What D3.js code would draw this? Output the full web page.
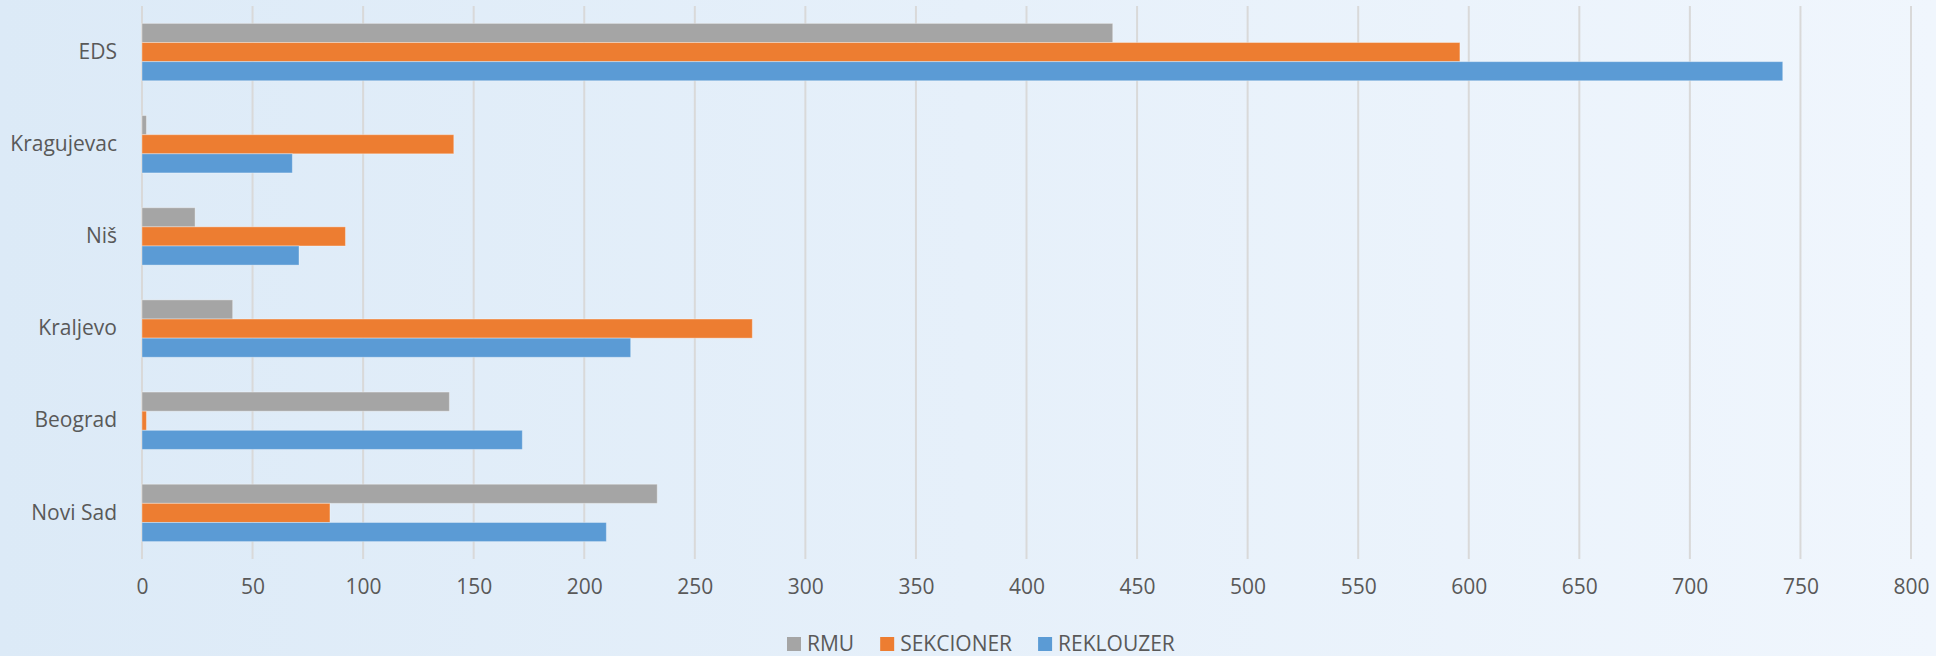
<!DOCTYPE html>
<html>
<head>
<meta charset="utf-8">
<script src="https://cdn.jsdelivr.net/npm/d3@7"></script>
<style>
  html, body { margin: 0; padding: 0; }
  body { width: 1936px; height: 656px; overflow: hidden; }
  text { font-family: "Open Sans", "Noto Sans", sans-serif; fill: #595959; }
</style>
</head>
<body>
<svg id="chart" width="1936" height="656"></svg>
<script>
// categories, top to bottom as drawn
const regions = ["EDS", "Kragujevac", "Niš", "Kraljevo", "Beograd", "Novi Sad"];
const seriesNames = ["RMU", "SEKCIONER", "REKLOUZER"];
const seriesColors = ["#a5a5a5", "#ed7d31", "#5b9bd5"];

// values per region, same order as regions
const rmu = [439, 2, 24, 41, 139, 233];
const sekcioner = [596, 141, 92, 276, 2, 85];
const reklouzer = [742, 68, 71, 221, 172, 210];

const xTicks = [0, 50, 100, 150, 200, 250, 300, 350, 400, 450, 500, 550, 600, 650, 700, 750, 800];

const W = 1936, H = 656;
const fontSize = 21;
const svg = d3.select("#chart");

// background gradient, like the slide behind the chart
const defs = svg.append("defs");
const grad = defs.append("linearGradient").attr("id", "bg")
    .attr("x1", "0%").attr("x2", "100%").attr("y1", "0%").attr("y2", "0%");
grad.append("stop").attr("offset", "0%").attr("stop-color", "#dceaf7");
grad.append("stop").attr("offset", "100%").attr("stop-color", "#f0f6fd");
svg.append("rect").attr("width", W).attr("height", H).attr("fill", "url(#bg)");

const plot = {left: 142, right: 1911, top: 6, bottom: 559};

const x = d3.scaleLinear().domain([0, 800]).range([plot.left, plot.right]);
const y = d3.scaleBand().domain(regions).range([plot.top, plot.bottom]);

// gap width 182% like excel
const barH = y.bandwidth() / (3 + 1.82);
const gap = (y.bandwidth() - 3 * barH) / 2;
const ySeries = d3.scaleBand().domain(seriesNames).range([gap, gap + 3 * barH]);

// gridlines
svg.append("g")
    .selectAll("line")
    .data(xTicks)
    .join("line")
    .attr("x1", d => x(d)).attr("x2", d => x(d))
    .attr("y1", plot.top).attr("y2", plot.bottom)
    .attr("stroke", "#d9d9d9")
    .attr("stroke-width", 2);

// bars
const table = regions.map((r, i) => ({
    region: r,
    values: [rmu[i], sekcioner[i], reklouzer[i]]
}));

const groups = svg.append("g").selectAll("g")
    .data(table)
    .join("g")
    .attr("transform", d => `translate(0,${y(d.region)})`);

groups.selectAll("rect")
    .data(d => d.values.map((v, j) => ({name: seriesNames[j], value: v, color: seriesColors[j]})))
    .join("rect")
    .attr("x", x(0))
    .attr("y", d => ySeries(d.name))
    .attr("width", d => x(d.value) - x(0))
    .attr("height", ySeries.bandwidth())
    .attr("fill", d => d.color)
    .attr("stroke", "rgba(255,255,255,0.35)")
    .attr("stroke-width", 1);

// x axis labels
const xAxis = d3.axisBottom(x).tickValues(xTicks).tickSize(0).tickPadding(0);
const gx = svg.append("g").attr("transform", `translate(0,${plot.bottom + 20})`).call(xAxis);
gx.select(".domain").remove();
gx.selectAll("text")
    .attr("font-size", fontSize)
    .attr("dy", "0.71em")
    .style("font-family", '"Open Sans", "Noto Sans", sans-serif')
    .attr("fill", "#595959");

// category labels
const yAxis = d3.axisLeft(y).tickSize(0).tickPadding(0);
const gy = svg.append("g").attr("transform", `translate(${plot.left - 25},0)`).call(yAxis);
gy.select(".domain").remove();
gy.selectAll("text")
    .attr("font-size", fontSize)
    .style("font-family", '"Open Sans", "Noto Sans", sans-serif')
    .attr("fill", "#595959");

// legend
const legend = svg.append("g").attr("transform", "translate(787,644)");
let lx = 0;
seriesNames.forEach((name, i) => {
    const item = legend.append("g").attr("transform", `translate(${lx},0)`);
    item.append("rect")
        .attr("x", 0).attr("y", -7)
        .attr("width", 14).attr("height", 14)
        .attr("fill", seriesColors[i]);
    const t = item.append("text")
        .attr("x", 20).attr("y", 0)
        .attr("dy", "0.35em")
        .attr("font-size", fontSize)
        .text(name);
    lx += 20 + t.node().getComputedTextLength() + 26;
});
</script>
</body>
</html>
